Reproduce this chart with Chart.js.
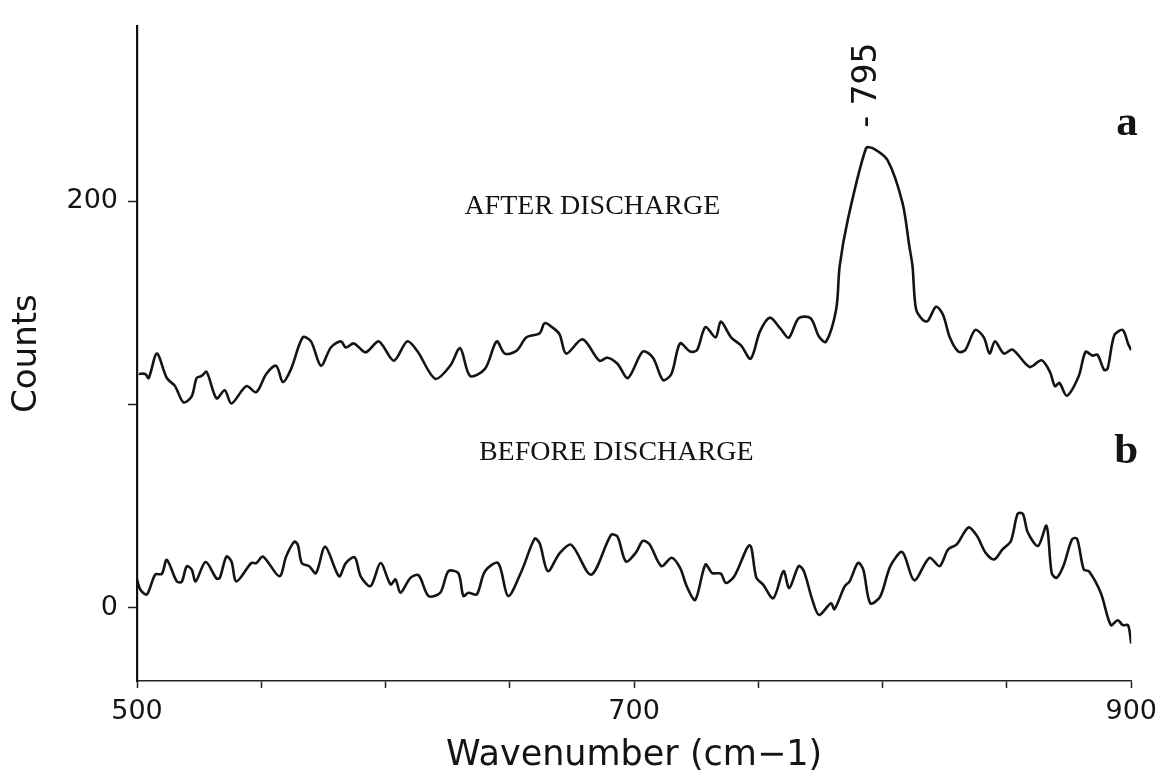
<!DOCTYPE html>
<html>
<head>
<meta charset="utf-8">
<script src="https://cdn.jsdelivr.net/npm/chart.js@4/dist/chart.umd.min.js"></script>
<style>
  html, body { margin: 0; padding: 0; background: #ffffff; }
  #c { display: block; }
</style>
</head>
<body>
<canvas id="c" width="1165" height="773"></canvas>
<script>
// ---- Data ----
const afterWavenumber = [500.7,503.3,504.7,508,512,515.3,518.7,522,524,526,528,532,535.3,538,544,548,552,556,558.7,562,566.7,570,574,578,582,584,587.3,592,597.3,603.3,608.7,612.7,620,626,630,634,640,644.7,648,652.7,656.7,662,664,667,670,672.7,679.3,686,689.3,693.3,697.5,703.5,707.6,711.6,715,718.5,722.6,725.3,728.7,732.8,734.9,739,743,746.9,750.6,754.6,758.8,762.2,766.2,771,774.4,777.2,781.3,782.7,786,793.3,796,802,808,810.7,812,813.4,816.1,818.1,821.5,824.3,827,830.4,833.2,837.2,840.7,843,845.2,848.8,852.3,859.1,863.9,867.3,869.3,871.1,874.1,878.9,881.6,884.4,886.4,889.1,890.5,893.2,896.6,898.7,900];
const afterCounts = [115,115,113,125,113,109,101,104,113,114,116,103,107,100.5,109,106,115,119,111,117.5,133,131,119,128,131,128,130,125.6,131,121.5,131,126.4,112.6,119,127.7,114,117.5,131,125,126.4,133,135,140,138,134.5,125,132,121.5,123,120,113,126,123,112,115,130,126,126.7,138,133,140.7,133,129,122.5,135.8,142.7,137.4,132.8,142.4,142.4,133.3,130.8,146.8,168,191,226,226,220,199,178,168,147,141.6,141,148,144,133,126,126.7,136.6,133,125,131,125,127,118.4,121.7,116,109,110.6,104.3,114,125.8,124,124.5,117,117.6,134,136.6,130,126.7];

const beforeWavenumber = [500,501.3,504,507.3,510,512,516,518,520,522,523.6,527.6,532,533.3,536,538,540,546,548,550.7,557.3,560,563.3,564.7,566.3,569.3,572,575.7,581.3,584,587.6,590,594,598,602,604,606,610,613.3,617.3,622,625.3,629.3,631.3,633.3,636.7,640,645.3,649.3,654.7,660,662,665.3,670,674.7,682.7,690.7,693.3,696.7,700.7,703.5,706.2,711,715.1,718.5,721.2,724.6,728.7,731.4,734.9,736.9,740.3,746.5,749.2,751.9,756,760.1,762.4,766.2,768.3,771.7,774.4,779.2,780.6,784.7,786.7,790.1,792.2,795,799,803.1,807.9,812.7,818.8,822.9,826.3,829.8,834.5,837.9,841.4,844.8,848.2,851.6,854.3,856.4,858.4,862.5,865.9,868,870,872.7,876.2,878.2,880.9,883,887.8,891.8,894.6,896.6,898.7,900];
const beforeCounts = [14,9,6.6,16.3,16.7,23.6,13,12.8,20.4,18.8,13,22.5,14.4,14.7,25.2,22.8,13,22,22,25.2,15.5,25.2,32.5,31,22,20.4,17,30,15.5,22,24.8,15.5,10.7,22,11.5,13.9,7.4,14.7,16,5.8,7.4,18,17,5.8,7.4,6.6,18,22,5.8,18,34,31.7,18,26.8,31,16.3,35.8,35,22.8,27.1,32.9,31.2,20.5,24.6,19.6,10.5,3.9,21.3,17.1,16.8,12.2,15.5,30.7,14.7,11.4,4.7,18,9.7,20.5,18,3.9,-3.5,2.2,-0.7,10.5,13,22.1,18.8,2.2,5.5,20.5,27.4,13.5,24.6,20.5,28.7,31.2,39.5,35.4,27.1,23.8,28.7,32.9,46.2,46.2,37,30.4,40.3,17.1,14.7,20.5,33.7,34,18.8,18,7.2,-8.5,-6.1,-8.5,-8.5,-17.6];

const xTickValuesLabeled = [500, 700, 900];
const yTickValues = [0, 100, 200];
const yTickValuesLabeled = [0, 200];
const peakLabel = '- 795';
const seriesNames = ['AFTER DISCHARGE', 'BEFORE DISCHARGE'];
const panelLetters = ['a', 'b'];

// ---- Chart ----
const toPoints = (xs, ys) => xs.map((v, i) => ({ x: v, y: ys[i] }));

const annotate = {
  id: 'annotate',
  afterDatasetsDraw(chart) {
    const { ctx, scales: { x, y } } = chart;
    ctx.save();
    ctx.fillStyle = '#141414';
    ctx.textAlign = 'center';
    ctx.textBaseline = 'middle';
    ctx.font = "28px 'Liberation Serif', serif";
    ctx.fillText(seriesNames[0], x.getPixelForValue(683.2), y.getPixelForValue(197.5));
    ctx.fillText(seriesNames[1], x.getPixelForValue(692.8), y.getPixelForValue(76.2));
    ctx.font = "bold 43px 'Liberation Serif', serif";
    ctx.fillText(panelLetters[0], x.getPixelForValue(898.3), y.getPixelForValue(238));
    ctx.fillText(panelLetters[1], x.getPixelForValue(898), y.getPixelForValue(76.5));
    // rotated peak label
    ctx.save();
    ctx.translate(x.getPixelForValue(794), y.getPixelForValue(257));
    ctx.rotate(-Math.PI / 2);
    ctx.font = "33px 'DejaVu Sans', sans-serif";
    ctx.fillText(peakLabel, 0, 0);
    ctx.restore();
    ctx.restore();
  }
};

const lineStyle = {
  borderColor: '#141414',
  borderWidth: 2.6,
  pointRadius: 0,
  tension: 0.3,
  fill: false
};

new Chart(document.getElementById('c'), {
  type: 'line',
  data: {
    datasets: [
      Object.assign({ label: 'After discharge', data: toPoints(afterWavenumber, afterCounts) }, lineStyle),
      Object.assign({ label: 'Before discharge', data: toPoints(beforeWavenumber, beforeCounts) }, lineStyle)
    ]
  },
  options: {
    responsive: false,
    animation: false,
    layout: { padding: { top: 17, right: 30, left: 0, bottom: 0 } },
    plugins: { legend: { display: false }, tooltip: { enabled: false } },
    scales: {
      x: {
        type: 'linear',
        min: 500,
        max: 900,
        grid: { drawOnChartArea: false, drawTicks: true, tickLength: 7, tickColor: '#222', tickWidth: 1.5 },
        border: { color: '#222', width: 1.5 },
        ticks: {
          stepSize: 50,
          autoSkip: false,
          maxRotation: 0,
          padding: 8,
          color: '#141414',
          font: { family: "'DejaVu Sans', sans-serif", size: 27 },
          callback: (v) => xTickValuesLabeled.includes(v) ? String(v) : ''
        },
        title: {
          display: true,
          text: 'Wavenumber (cm\u22121)',
          color: '#141414',
          font: { family: "'DejaVu Sans', sans-serif", size: 35, lineHeight: 1 },
          padding: { top: 0, bottom: 0 }
        },
        afterFit: (s) => { s.height = 92; }
      },
      y: {
        type: 'linear',
        min: -36,
        max: 286,
        afterBuildTicks: (s) => { s.ticks = yTickValues.map(v => ({ value: v })); },
        grid: { drawOnChartArea: false, drawTicks: true, tickLength: 9, tickColor: '#222', tickWidth: 1.5 },
        border: { color: '#111', width: 2.2 },
        ticks: {
          padding: 10,
          color: '#141414',
          font: { family: "'DejaVu Sans', sans-serif", size: 27 },
          callback: (v) => yTickValuesLabeled.includes(v) ? String(v) : ''
        },
        title: {
          display: true,
          text: 'Counts',
          color: '#141414',
          font: { family: "'DejaVu Sans', sans-serif", size: 34, lineHeight: 1 },
          padding: { top: 10, bottom: 0 }
        },
        afterFit: (s) => { s.width = 137; }
      }
    }
  },
  plugins: [annotate]
});
</script>
</body>
</html>
